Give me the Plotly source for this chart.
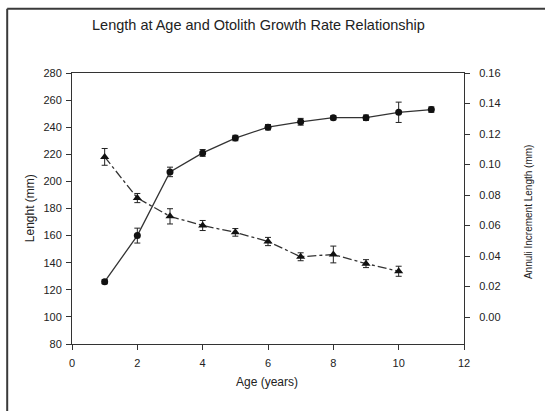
import plotly.graph_objects as go

# Mean fish length at age (left axis) with standard errors
age_len = [1, 2, 3, 4, 5, 6, 7, 8, 9, 10, 11]
length_mm = [126, 160, 207, 221, 232, 240, 244, 247, 247, 251, 253]
length_err = [1.5, 5.5, 3.5, 2.5, 2, 2, 2.5, 1.5, 2, 7.5, 2]

# Mean annuli increment length at age (right axis) with standard errors
age_inc = [1, 2, 3, 4, 5, 6, 7, 8, 9, 10]
increment_mm = [0.105, 0.078, 0.066, 0.060, 0.0555, 0.0495, 0.0395, 0.041, 0.035, 0.030]
increment_err = [0.0055, 0.003, 0.005, 0.0033, 0.0025, 0.0027, 0.0026, 0.0055, 0.0026, 0.0033]

x_ticks = [0, 2, 4, 6, 8, 10, 12]
left_ticks = [80, 100, 120, 140, 160, 180, 200, 220, 240, 260, 280]
right_ticks = [0.00, 0.02, 0.04, 0.06, 0.08, 0.10, 0.12, 0.14, 0.16]

FONT = "Liberation Sans, Arial, sans-serif"
INK = "#222222"

fig = go.Figure()

fig.add_trace(go.Scatter(
    x=age_len, y=length_mm, mode="lines+markers",
    line=dict(color="#333333", width=1.3, dash="solid"),
    marker=dict(symbol="circle", size=7, color="#111111"),
    error_y=dict(type="data", array=length_err, visible=True,
                 color="#222222", thickness=1, width=3),
    yaxis="y", showlegend=False,
))

fig.add_trace(go.Scatter(
    x=age_inc, y=increment_mm, mode="lines+markers",
    line=dict(color="#333333", width=1.3, dash="dashdot"),
    marker=dict(symbol="triangle-up", size=8, color="#111111"),
    error_y=dict(type="data", array=increment_err, visible=True,
                 color="#222222", thickness=1, width=3),
    yaxis="y2", showlegend=False,
))

axis_common = dict(
    showgrid=False, zeroline=False, showline=True, linecolor="#333333",
    linewidth=1, ticks="outside", ticklen=5, tickcolor="#333333",
    tickfont=dict(family=FONT, size=11, color=INK),
)

# Outer chart frame (paper coordinates relative to the plot area)
frame = dict(color="#3a3a3a", width=2)
frame_lines = [
    dict(type="line", xref="paper", yref="paper", layer="above",
         x0=-0.1653, y0=1.237, x1=1.25, y1=1.237, line=frame),
    dict(type="line", xref="paper", yref="paper", layer="above",
         x0=-0.1653, y0=1.237, x1=-0.1653, y1=-0.3, line=frame),
]


def label(text, x, y, size, angle=0):
    return dict(text=text, x=x, y=y, xref="paper", yref="paper",
                xanchor="center", yanchor="middle", showarrow=False,
                textangle=angle, font=dict(family=FONT, size=size, color=INK))


fig.update_layout(
    width=545, height=411,
    margin=dict(l=72, r=81, t=73, b=67),
    paper_bgcolor="white", plot_bgcolor="white",
    font=dict(family=FONT, color=INK),
    xaxis=dict(range=[0, 12], tickvals=x_ticks, mirror=True,
               ticklabelstandoff=4, **axis_common),
    yaxis=dict(range=[80, 280], tickvals=left_ticks, mirror=True,
               ticklabelstandoff=2, **axis_common),
    yaxis2=dict(range=[-0.0177, 0.16], tickvals=right_ticks, tickformat=".2f",
                overlaying="y", side="right", ticklabelstandoff=7, **axis_common),
    annotations=[
        label("Length at Age and Otolith Growth Rate Relationship", 0.475, 1.178, 14.5),
        label("Age (years)", 0.4985, -0.139, 12),
        label("Lenght (mm)", -0.108, 0.5, 12, -90),
        label("Annuli Increment Length (mm)", 1.163, 0.49, 10, -90),
    ],
    shapes=frame_lines,
)

fig.write_html("out.html")
